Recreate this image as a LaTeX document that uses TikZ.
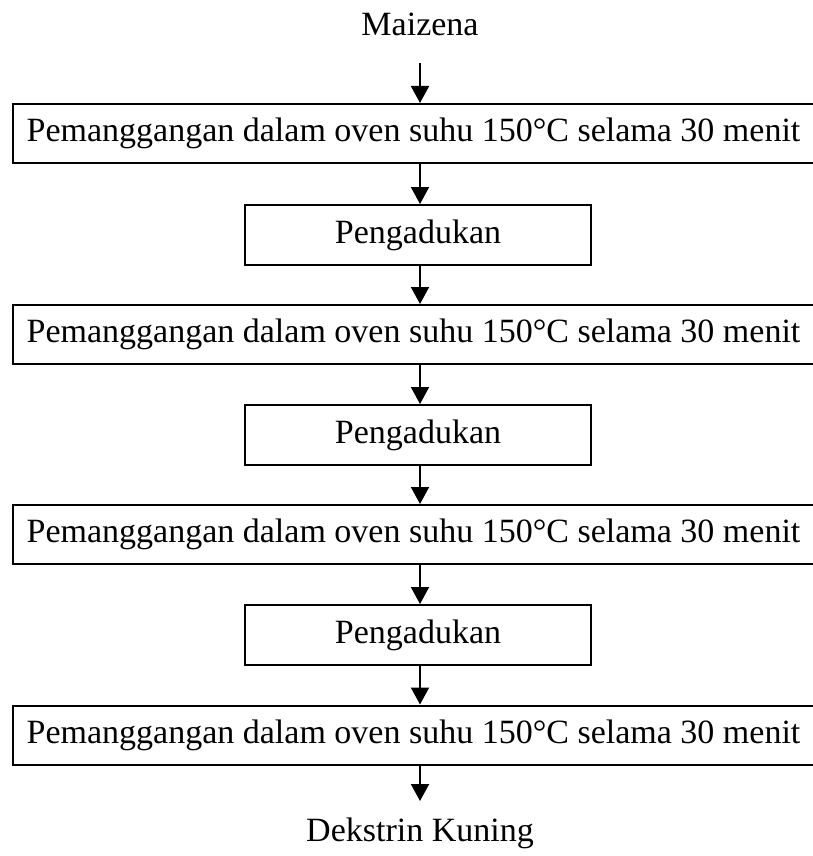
\documentclass[tikz,border=0pt]{standalone}
\usepackage{fontspec}
\setmainfont{Liberation Serif}
\usetikzlibrary{arrows.meta}

\begin{document}
\begin{tikzpicture}[x=0.5pt, y=-0.5pt, every node/.style={font=\fontsize{17}{20}\selectfont},
  widebox/.style={draw, line width=1pt, minimum width=400.5pt, minimum height=29.5pt, inner sep=0pt},
  smallbox/.style={draw, line width=1pt, minimum width=173pt, minimum height=30pt, inner sep=0pt},
  arr/.style={line width=1pt, -{Triangle[length=8.5pt,width=9pt]}}]
\useasboundingbox (0,0) rectangle (813,856);
\node (M) at (420,24) {Maizena};
\coordinate (S) at (420,63);
\node[widebox] (P1) at (413.5,133.5) {Pemanggangan dalam oven suhu 150°C selama 30 menit};
\node[smallbox] (A1) at (418,235) {Pengadukan};
\node[widebox] (P2) at (413.5,334.5) {Pemanggangan dalam oven suhu 150°C selama 30 menit};
\node[smallbox] (A2) at (418,435) {Pengadukan};
\node[widebox] (P3) at (413.5,534.5) {Pemanggangan dalam oven suhu 150°C selama 30 menit};
\node[smallbox] (A3) at (418,635) {Pengadukan};
\node[widebox] (P4) at (413.5,735) {Pemanggangan dalam oven suhu 150°C selama 30 menit};
\node (D) at (420,833) {Dekstrin Kuning};
\coordinate (E) at (420,801);
\draw[arr] (S) -- (P1.north -| S);
\draw[arr] (P1.south -| S) -- (A1.north -| S);
\draw[arr] (A1.south -| S) -- (P2.north -| S);
\draw[arr] (P2.south -| S) -- (A2.north -| S);
\draw[arr] (A2.south -| S) -- (P3.north -| S);
\draw[arr] (P3.south -| S) -- (A3.north -| S);
\draw[arr] (A3.south -| S) -- (P4.north -| S);
\draw[arr] (P4.south -| S) -- (E);
\end{tikzpicture}
\end{document}
